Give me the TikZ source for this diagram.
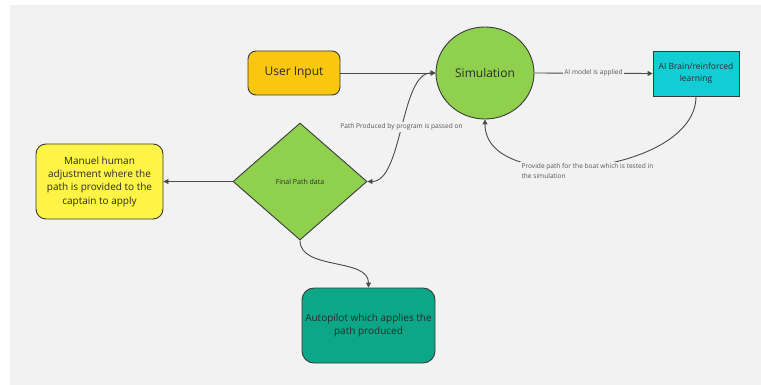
\documentclass[tikz,border=0pt]{standalone}
\usepackage{fontspec}
\setmainfont{Open Sans}
\usetikzlibrary{shapes.geometric,arrows.meta}
\definecolor{bgc}{HTML}{F2F2F2}
\definecolor{uic}{HTML}{FAC710}
\definecolor{simc}{HTML}{8FD14F}
\definecolor{aic}{HTML}{12CDD4}
\definecolor{manc}{HTML}{FEF445}
\definecolor{autoc}{HTML}{0CA789}
\definecolor{edgec}{HTML}{3A3A3A}
\definecolor{linec}{HTML}{4A4A4A}
\definecolor{txtc}{HTML}{2A2A2A}
\definecolor{lblc}{HTML}{555555}
\tikzset{
  box/.style={draw=edgec, line width=0.9pt, text=txtc, inner sep=2pt, align=center},
  conn/.style={draw=linec, line width=0.9pt, -{Triangle[length=5pt,width=5pt]}},
  lbl/.style={fill=bgc, text=lblc, font=\fontsize{6.6}{10}\selectfont, inner sep=1.5pt}
}
\begin{document}
\begin{tikzpicture}[x=1pt,y=-1pt]
\useasboundingbox (0,0) rectangle (761,385);
\fill[white] (0,0) rectangle (761,385);
\fill[bgc] (10,5) rectangle (761,385);

\node[box, fill=uic, rounded corners=8pt, minimum width=92pt, minimum height=44pt,
      font=\fontsize{12}{14}\selectfont] (ui) at (294,73) {User Input};
\node[box, fill=simc, ellipse, minimum width=98pt, minimum height=92pt, inner sep=0pt,
      font=\fontsize{12}{14}\selectfont] (sim) at (485,73) {Simulation};
\node[box, fill=aic, minimum width=86pt, minimum height=45pt,
      font=\fontsize{8.5}{12}\selectfont] (ai) at (696,73.5) {AI Brain/reinforced\\learning};
\node[box, fill=simc, diamond, aspect=1.145, minimum width=134pt, minimum height=117pt, inner sep=0pt,
      font=\fontsize{7}{9}\selectfont] (dia) at (300,181.5) {Final Path data};
\node[box, fill=manc, rounded corners=10pt, minimum width=127pt, minimum height=75pt,
      font=\fontsize{10}{13.3}\selectfont] (man) at (99.5,181.5)
      {Manuel human\\adjustment where the\\path is provided to the\\captain to apply};
\node[box, fill=autoc, rounded corners=12pt, minimum width=133pt, minimum height=75pt,
      font=\fontsize{10}{12.3}\selectfont] (auto) at (368.5,325.5)
      {Autopilot which applies the\\path produced};

\draw[conn] (ui.east) -- (sim.west);
\draw[conn] (sim.east) -- node[lbl] {AI model is applied} (ai.west);
\draw[conn] (ai.south) .. controls +(0,77) and +(0,77) .. (sim.south)
  node[lbl, pos=0.5, align=left, yshift=-5pt, xshift=-3pt] {Provide path for the boat which is tested in\\the simulation};
\draw[conn, {Triangle[length=5pt,width=5pt]}-{Triangle[length=5pt,width=5pt]}]
  (dia.east) .. controls +(35,0) and +(-35,0) .. (sim.west)
  node[lbl, pos=0.5] {Path Produced by program is passed on};
\draw[conn] (dia.west) -- (man.east);
\draw[conn] (dia.south) .. controls +(0,30) and +(0,-30) .. (auto.north);
\end{tikzpicture}
\end{document}
